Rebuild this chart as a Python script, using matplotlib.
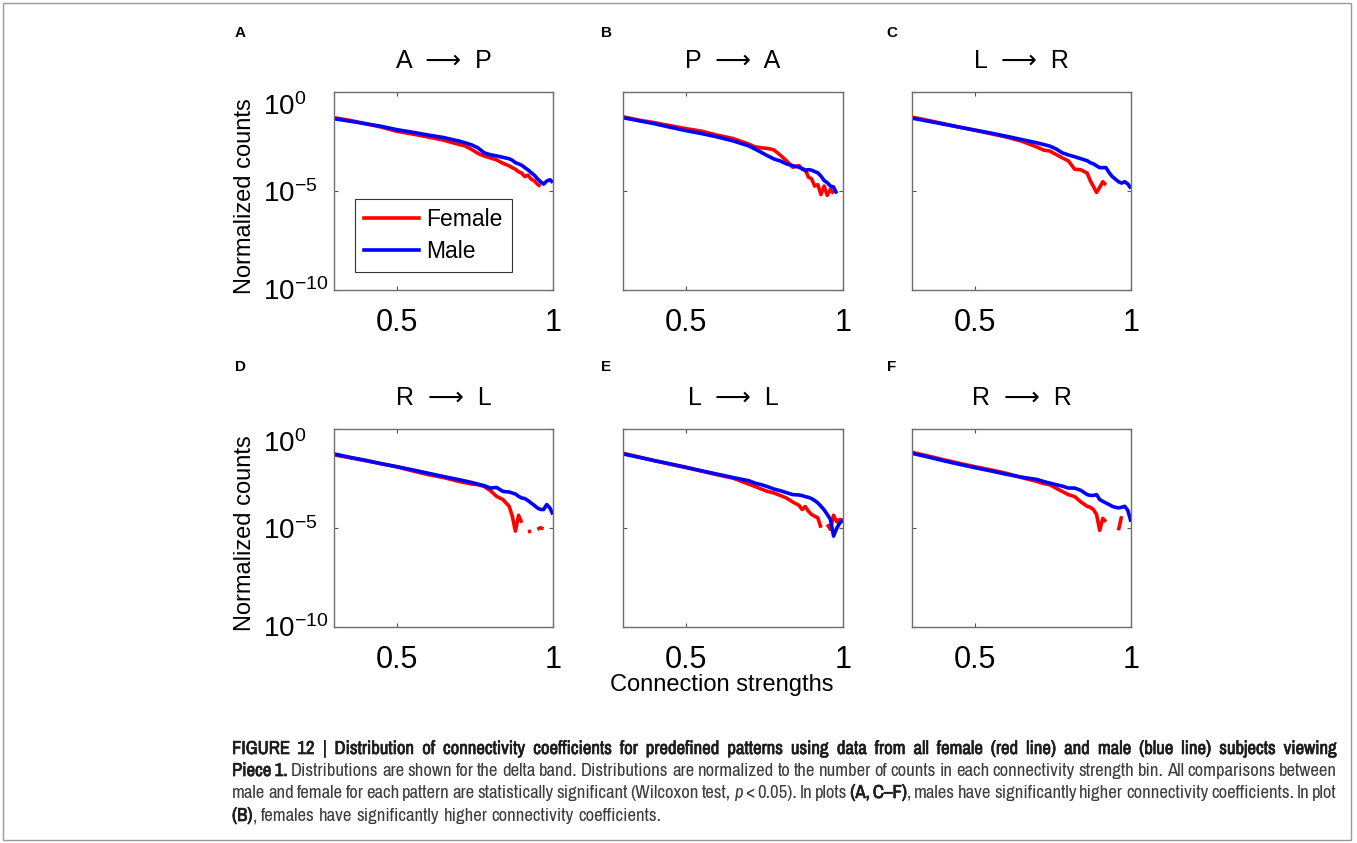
import numpy as np
import matplotlib
matplotlib.use("Agg")
from matplotlib import pyplot as plt, patches, transforms
from matplotlib import font_manager
from matplotlib import patheffects
from matplotlib.lines import Line2D

W, H = 1357, 843
nan = np.nan

# shared x grid (connection strength) and log10 of normalized counts
x_grid = [0.30, 0.35, 0.40, 0.45, 0.50, 0.55, 0.60, 0.65, 0.70, 0.72, 0.74, 0.76, 0.78,
          0.80, 0.82, 0.84, 0.86, 0.87, 0.88, 0.89, 0.90, 0.91, 0.92, 0.93, 0.94, 0.95,
          0.96, 0.97, 0.98, 0.99, 1.00]

male_A = [-1.35, -1.47, -1.60, -1.73, -1.90, -2.03, -2.17, -2.30, -2.48, -2.57, -2.67, -2.82, -3.07,
          -3.17, -3.23, -3.30, -3.37, -3.45, -3.57, -3.63, -3.70, -3.82, -3.93, -4.07, -4.20, -4.37,
          -4.53, -4.65, -4.50, -4.43, -4.57]
female_A = [-1.30, -1.43, -1.60, -1.77, -1.98, -2.12, -2.27, -2.43, -2.65, -2.73, -2.90, -3.10, -3.23,
            -3.33, -3.43, -3.60, -3.73, -3.82, -3.90, -4.03, -4.10, -4.27, -4.20, -4.40, -4.48, -4.65,
            -4.77, nan, nan, nan, nan]
male_B = [-1.30, -1.45, -1.60, -1.78, -1.95, -2.10, -2.27, -2.47, -2.72, -2.88, -3.05, -3.22, -3.38,
          -3.48, -3.63, -3.72, -3.80, -3.88, -3.97, -3.92, -3.95, -4.02, -4.08, -4.25, -4.47, -4.58,
          -4.75, -4.80, -5.13, nan, nan]
female_B = [-1.25, -1.42, -1.55, -1.70, -1.85, -1.98, -2.18, -2.35, -2.63, -2.77, -2.82, -2.85, -2.92,
            -3.18, -3.47, -3.80, -3.72, -3.88, -3.92, -4.30, -4.38, -4.75, -4.68, -5.18, -4.75, -5.22,
            -4.92, -5.13, nan, nan, nan]
male_C = [-1.32, -1.47, -1.62, -1.77, -1.92, -2.07, -2.23, -2.40, -2.57, -2.65, -2.73, -2.87, -3.07,
          -3.18, -3.27, -3.37, -3.47, -3.57, -3.63, -3.73, -3.82, -3.82, -3.82, -4.07, -4.27, -4.40,
          -4.53, -4.60, -4.53, -4.65, -4.87]
female_C = [-1.27, -1.43, -1.60, -1.77, -1.93, -2.10, -2.27, -2.48, -2.78, -2.93, -2.98, -3.15, -3.32,
            -3.48, -3.90, -3.93, -4.10, -4.48, -4.77, -5.07, -4.82, -4.53, -4.70, nan, nan, nan,
            nan, nan, nan, nan, nan]
male_D = [-1.28, -1.45, -1.60, -1.77, -1.92, -2.08, -2.25, -2.42, -2.58, -2.65, -2.72, -2.80, -2.88,
          -3.00, -2.97, -3.17, -3.20, -3.25, -3.30, -3.42, -3.50, -3.53, -3.63, -3.75, -3.87, -4.00,
          -4.08, -4.08, -3.83, -4.00, -4.33]
female_D = [-1.33, -1.47, -1.62, -1.77, -1.93, -2.13, -2.32, -2.47, -2.67, -2.73, -2.80, -2.83, -2.92,
            -3.13, -3.42, -3.58, -3.92, -4.42, -5.17, -4.37, -4.75, nan, -5.20, -5.17, nan, -5.08,
            -5.00, -5.05, nan, nan, nan]
male_E = [-1.28, -1.45, -1.62, -1.78, -1.95, -2.13, -2.30, -2.47, -2.63, -2.75, -2.83, -2.93, -3.05,
          -3.13, -3.23, -3.33, -3.35, -3.38, -3.43, -3.47, -3.53, -3.63, -3.75, -3.92, -4.10, -4.33,
          -4.58, -5.42, -5.03, -4.75, -4.63]
female_E = [-1.25, -1.43, -1.62, -1.80, -1.97, -2.15, -2.33, -2.50, -2.80, -2.92, -3.05, -3.17, -3.25,
            -3.37, -3.50, -3.70, -3.87, -4.08, -3.93, -4.17, -4.33, -4.42, -4.50, -5.00, nan, -4.83,
            -5.08, -4.37, -4.70, -4.58, -4.63]
male_F = [-1.25, -1.43, -1.62, -1.80, -1.97, -2.13, -2.30, -2.45, -2.57, -2.67, -2.75, -2.83, -2.90,
          -3.00, -3.00, -3.12, -3.33, -3.37, -3.37, -3.33, -3.58, -3.67, -3.75, -3.83, -3.92, -3.97,
          -4.00, -3.97, -3.92, -4.13, -4.70]
female_F = [-1.20, -1.38, -1.57, -1.75, -1.92, -2.08, -2.25, -2.47, -2.67, -2.77, -2.83, -3.00, -3.17,
            -3.33, -3.43, -3.70, -3.92, -3.97, -4.08, -4.33, -5.13, -4.53, -4.70, nan, nan, nan,
            -5.13, -4.42, nan, nan, nan]

panel_letters = ['A', 'B', 'C', 'D', 'E', 'F']
panel_titles = ['A  \u27f6  P', 'P  \u27f6  A', 'L  \u27f6  R', 'R  \u27f6  L', 'L  \u27f6  L', 'R  \u27f6  R']
female_sets = [female_A, female_B, female_C, female_D, female_E, female_F]
male_sets = [male_A, male_B, male_C, male_D, male_E, male_F]
legend_labels = ['Female', 'Male']


def pick_font(names):
    for n in names:
        try:
            font_manager.findfont(n, fallback_to_default=False)
            return n
        except Exception:
            pass
    return 'DejaVu Sans'


def pick_condensed():
    # look for a narrow/condensed face among installed fonts
    for f in font_manager.fontManager.ttflist:
        if 'Narrow' in f.name:
            return f.name, 'normal'
    for fam in ['Liberation Sans', 'DejaVu Sans', 'Roboto', 'Open Sans', 'Noto Sans']:
        for f in font_manager.fontManager.ttflist:
            if f.name == fam and str(f.stretch) in ('condensed', 'semi-condensed', 'extra-condensed'):
                return fam, 'condensed'
    return None, None


main_font = pick_font(['Liberation Sans', 'Arial', 'DejaVu Sans'])
cap_font, cap_stretch = pick_condensed()
if cap_font is None:
    cap_font, cap_stretch = main_font, 'normal'
# does the narrow family have a real bold face?
cap_has_bold = any(f.name == cap_font and (f.weight == 'bold' or (isinstance(f.weight, int) and f.weight >= 600))
                   for f in font_manager.fontManager.ttflist)

plt.rcParams['font.family'] = [main_font, 'DejaVu Sans']

fig = plt.figure(figsize=(W / 100, H / 100), dpi=100)

# outer frame
fig.add_artist(patches.Rectangle((3 / W, 1 - 840 / H), 1348 / W, 837 / H, transform=fig.transFigure,
                                 fill=False, edgecolor='#9a9a9a', linewidth=1))

cols = [(334, 553), (623, 843), (912, 1131)]
rows = [(92, 290), (428.5, 627)]
letter_pos = [(240, 33), (606, 33), (892, 33), (240, 367), (606, 367), (892, 367)]

xg = np.array(x_grid)
axes = []
for i in range(6):
    r, c = divmod(i, 3)
    l, rt = cols[c]
    t, b = rows[r]
    ax = fig.add_axes([l / W, 1 - b / H, (rt - l) / W, (b - t) / H])
    axes.append(ax)
    ax.plot(xg, 10 ** np.array(female_sets[i]), color='#ff0000', lw=2.6, solid_capstyle='butt')
    ax.plot(xg, 10 ** np.array(male_sets[i]), color='#0000ff', lw=2.6, solid_capstyle='butt')
    ax.set_yscale('log')
    ax.set_xlim(0.3, 1.0)
    ax.set_ylim(1e-10, 1)
    ax.set_xticks([0.5, 1.0])
    ax.set_xticklabels(['0.5', '1'])
    ax.set_yticks([1e-10, 1e-5, 1])
    ax.yaxis.set_minor_locator(matplotlib.ticker.NullLocator())
    ax.tick_params(direction='in', length=3, width=0.8, color='#555555', top=True, right=True)
    ax.tick_params(axis='x', labelsize=22, pad=13)
    ax.tick_params(axis='y', labelsize=20, pad=51)
    for sp in ax.spines.values():
        sp.set_color('#6e6e6e')
        sp.set_linewidth(1)
    if c == 0:
        labs = ax.get_yticklabels()
        for lab in labs:
            lab.set_horizontalalignment('left')
        # keep the end labels inside the axis range, as in the original
        labs[2].set_transform(labs[2].get_transform() +
                              transforms.ScaledTranslation(0, -9 / 72, fig.dpi_scale_trans))
        labs[0].set_transform(labs[0].get_transform() +
                              transforms.ScaledTranslation(0, 1 / 72, fig.dpi_scale_trans))
        ax.set_ylabel('Normalized counts', fontsize=17)
        ax.yaxis.set_label_coords(-0.355, 0.475)
    else:
        ax.set_yticklabels([])
    ax.set_title(panel_titles[i], fontsize=18, pad=17)
    fig.text(letter_pos[i][0] / W, 1 - letter_pos[i][1] / H, panel_letters[i], fontsize=11,
             fontweight='bold', ha='center', va='center')

axes[4].set_xlabel('Connection strengths', fontsize=17)
axes[4].xaxis.set_label_coords(0.45, -0.235)

handles = [Line2D([], [], color='#ff0000', lw=2.6), Line2D([], [], color='#0000ff', lw=2.6)]
leg = axes[0].legend(handles, legend_labels, loc='lower left', bbox_to_anchor=(0.096, 0.09),
                     fontsize=16.5, fancybox=False, edgecolor='#333333', framealpha=1,
                     handlelength=2.4, borderaxespad=0, borderpad=0.4, labelspacing=0.4,
                     handletextpad=0.3)
leg.get_frame().set_linewidth(0.8)

# caption, justified like the journal layout
cap_lines = [
    [("FIGURE 12 | Distribution of connectivity coefficients for predefined patterns using data from all "
      "female (red line) and male (blue line) subjects viewing", 'b')],
    [("Piece 1.", 'b'), ("Distributions are shown for the delta band. Distributions are normalized to the "
                         "number of counts in each connectivity strength bin. All comparisons between", 'n')],
    [("male and female for each pattern are statistically significant (Wilcoxon test,", 'n'), ("p", 'i'),
     ("< 0.05). In plots", 'n'), ("(A, C\u2013F)", 'b'), (",", 'n', True),
     ("males have significantly higher connectivity coefficients. In plot", 'n')],
    [("(B)", 'b'), (",", 'n', True), ("females have significantly higher connectivity coefficients.", 'n')],
]
cap_base = [754, 776, 798, 821]
cap_x0, cap_x1 = 232, 1337
bold_color = '#1e1e1e'
styles = {'b': dict(fontweight='bold', color=bold_color),
          'n': dict(fontweight='normal', color='#3c3c3c'),
          'i': dict(fontweight='normal', fontstyle='italic', color='#3c3c3c')}
if not cap_has_bold:
    # no bold narrow face installed: thicken the strokes instead
    styles['b'] = dict(fontweight='normal', color=bold_color,
                       path_effects=[patheffects.withStroke(linewidth=0.5, foreground=bold_color)])

renderer = fig.canvas.get_renderer()


def text_width(s, st, size):
    t = fig.text(0, 0, s, fontsize=size, family=[cap_font, 'DejaVu Sans'], fontstretch=cap_stretch,
                 **styles[st])
    w = t.get_window_extent(renderer).width
    t.remove()
    return w


def split_words(pieces):
    words = []
    for p in pieces:
        text, st = p[0], p[1]
        attach = len(p) > 2 and p[2]
        for k, w in enumerate(text.split(' ')):
            if not w:
                continue
            if k == 0 and attach and words:
                words[-1].append((w, st))
            else:
                words.append([(w, st)])
    return words


size = 13.5
words0 = split_words(cap_lines[0])
nat = sum(text_width(w, s, size) for wd in words0 for w, s in wd)
nat += (len(words0) - 1) * (text_width('x x', 'b', size) - text_width('xx', 'b', size))
if nat > (cap_x1 - cap_x0) * 0.97:
    size = size * (cap_x1 - cap_x0) * 0.97 / nat

for li, pieces in enumerate(cap_lines):
    words = split_words(pieces)
    widths = [[text_width(w, s, size) for w, s in wd] for wd in words]
    total = sum(sum(ws) for ws in widths)
    if li < 3:
        gap = (cap_x1 - cap_x0 - total) / (len(words) - 1)
    else:
        gap = text_width('x x', 'n', size) - text_width('xx', 'n', size)
    x = cap_x0
    for wd, ws in zip(words, widths):
        for (w, s), wv in zip(wd, ws):
            fig.text(x / W, 1 - cap_base[li] / H, w, fontsize=size, family=[cap_font, 'DejaVu Sans'],
                     fontstretch=cap_stretch, ha='left', va='baseline', **styles[s])
            x += wv
        x += gap

fig.savefig('out.png', dpi=100)
